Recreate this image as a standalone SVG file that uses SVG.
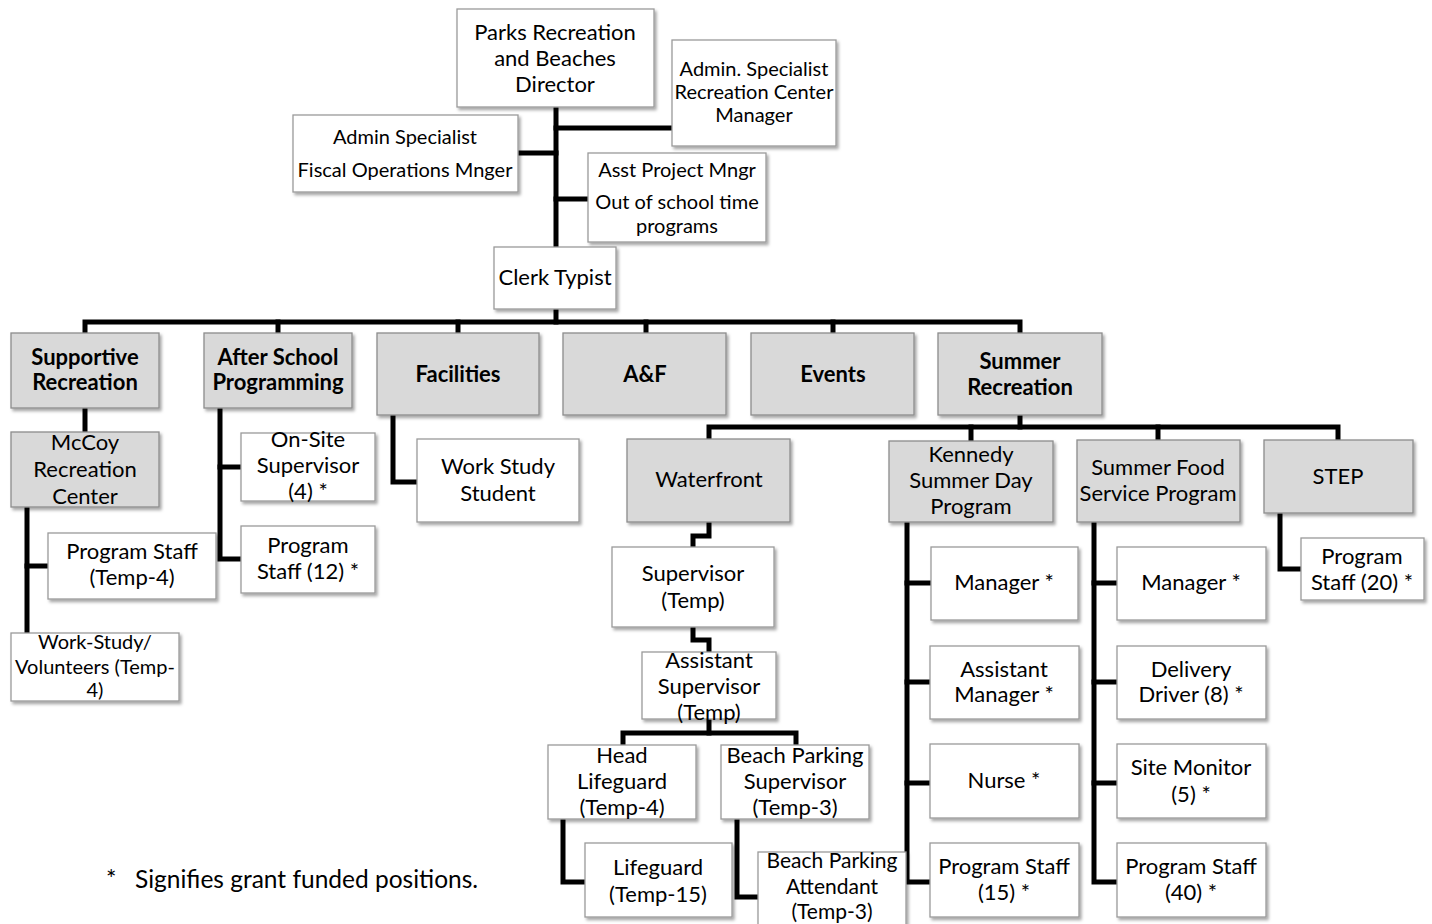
<svg xmlns="http://www.w3.org/2000/svg" width="1432" height="924" viewBox="0 0 1432 924">
  <defs>
    <filter id="shadow" x="-10%" y="-10%" width="130%" height="140%">
      <feDropShadow dx="2" dy="2.5" stdDeviation="1.5" flood-color="#000" flood-opacity="0.35"/>
    </filter>
  </defs>
  <style>
    .box { fill: #ffffff; stroke: #9a9a9a; stroke-width: 1.3; filter: url(#shadow); }
    .unit { fill: #d9d9d9; stroke: #8c8c8c; stroke-width: 1.3; filter: url(#shadow); }
    text { font-family: Lato, "Liberation Sans", Arial, sans-serif; fill: #000; text-anchor: middle; }
    .t { font-size: 22px; }
    .m { font-size: 21px; }
    .s { font-size: 20px; }
    .b { font-size: 22px; font-weight: bold; }
    .note { font-size: 24.5px; text-anchor: start; }
    .wire { fill: none; stroke: #000; stroke-width: 5; stroke-linejoin: miter; stroke-linecap: square; }
  </style>

  <rect width="1432" height="924" fill="#ffffff"/>

  <!-- connectors -->
  <g id="connectors" class="wire">
    <!-- director trunk and staff -->
    <path d="M556 107 V322"/>
    <path d="M556 128 H672"/>
    <path d="M518 153 H556"/>
    <path d="M556 199 H588"/>
    <!-- division bar -->
    <path d="M85 333 V322 H1020 V333"/>
    <path d="M278 322 V333"/>
    <path d="M458 322 V333"/>
    <path d="M646 322 V333"/>
    <path d="M833 322 V333"/>
    <!-- supportive recreation -->
    <path d="M85 408 V432"/>
    <path d="M27 507 V635"/>
    <path d="M27 566 H48"/>
    <!-- after school -->
    <path d="M220 408 V559 H241"/>
    <path d="M220 467 H241"/>
    <!-- facilities -->
    <path d="M393 415 V482 H417"/>
    <!-- summer recreation bar -->
    <path d="M1020 415 V427"/>
    <path d="M709 440 V427 H1338 V440"/>
    <path d="M971 427 V441"/>
    <path d="M1158 427 V440"/>
    <!-- waterfront chain -->
    <path d="M709 522 V536 H693 V547"/>
    <path d="M693 627 V640 H709 V652"/>
    <path d="M709 719 V733"/>
    <path d="M623 745 V733 H796 V745"/>
    <path d="M563 819 V882 H585"/>
    <path d="M737 819 V897 H758"/>
    <!-- kennedy -->
    <path d="M907 522 V882 H930"/>
    <path d="M907 583 H931"/>
    <path d="M907 682 H930"/>
    <path d="M907 783 H930"/>
    <!-- summer food -->
    <path d="M1094 522 V882 H1117"/>
    <path d="M1094 583 H1117"/>
    <path d="M1094 682 H1117"/>
    <path d="M1094 783 H1117"/>
    <!-- step -->
    <path d="M1280 513 V569 H1301"/>
  </g>

  <!-- top level -->
  <g id="director">
    <rect class="box" x="457" y="9" width="197" height="98"/>
    <text class="t" x="555" y="40">Parks Recreation</text>
    <text class="t" x="555" y="66">and Beaches</text>
    <text class="t" x="555" y="92">Director</text>
  </g>
  <g id="admin-rec-center">
    <rect class="box" x="672" y="40" width="164" height="106"/>
    <text class="s" x="754" y="76">Admin. Specialist</text>
    <text class="s" x="754" y="99">Recreation Center</text>
    <text class="s" x="754" y="122">Manager</text>
  </g>
  <g id="admin-fiscal">
    <rect class="box" x="293" y="115" width="225" height="77"/>
    <text class="s" x="405" y="144">Admin Specialist</text>
    <text class="s" x="405" y="177">Fiscal Operations Mnger</text>
  </g>
  <g id="asst-project">
    <rect class="box" x="588" y="153" width="178" height="89"/>
    <text class="s" x="677" y="177">Asst Project Mngr</text>
    <text class="s" x="677" y="209">Out of school time</text>
    <text class="s" x="677" y="233">programs</text>
  </g>
  <g id="clerk">
    <rect class="box" x="494" y="247" width="122" height="62"/>
    <text class="t" x="555" y="285">Clerk Typist</text>
  </g>

  <!-- divisions -->
  <g id="supportive">
    <rect class="unit" x="11" y="333" width="148" height="75"/>
    <text class="b" x="85" y="365">Supportive</text>
    <text class="b" x="85" y="390">Recreation</text>
  </g>
  <g id="after-school">
    <rect class="unit" x="204" y="333" width="148" height="75"/>
    <text class="b" x="278" y="365">After School</text>
    <text class="b" x="278" y="390">Programming</text>
  </g>
  <g id="facilities">
    <rect class="unit" x="377" y="333" width="162" height="82"/>
    <text class="b" x="458" y="382">Facilities</text>
  </g>
  <g id="a-and-f">
    <rect class="unit" x="563" y="333" width="163" height="82"/>
    <text class="b" x="645" y="382">A&amp;F</text>
  </g>
  <g id="events">
    <rect class="unit" x="751" y="333" width="163" height="82"/>
    <text class="b" x="833" y="382">Events</text>
  </g>
  <g id="summer">
    <rect class="unit" x="938" y="333" width="164" height="82"/>
    <text class="b" x="1020" y="369">Summer</text>
    <text class="b" x="1020" y="395">Recreation</text>
  </g>

  <!-- supportive recreation -->
  <g id="mccoy">
    <rect class="unit" x="11" y="432" width="148" height="75"/>
    <text class="t" x="85" y="450">McCoy</text>
    <text class="t" x="85" y="477">Recreation</text>
    <text class="t" x="85" y="504">Center</text>
  </g>
  <g id="mccoy-staff">
    <rect class="box" x="48" y="533" width="168" height="66"/>
    <text class="t" x="132" y="559">Program Staff</text>
    <text class="t" x="132" y="585">(Temp-4)</text>
  </g>
  <g id="mccoy-volunteers">
    <rect class="box" x="11" y="633" width="168" height="68"/>
    <text class="s" x="95" y="649">Work-Study/</text>
    <text class="s" x="95" y="674">Volunteers (Temp-</text>
    <text class="s" x="95" y="697">4)</text>
  </g>

  <!-- after school -->
  <g id="onsite">
    <rect class="box" x="241" y="433" width="134" height="68"/>
    <text class="t" x="308" y="447">On-Site</text>
    <text class="t" x="308" y="473">Supervisor</text>
    <text class="t" x="308" y="499">(4) *</text>
  </g>
  <g id="afterschool-staff">
    <rect class="box" x="241" y="526" width="134" height="67"/>
    <text class="t" x="308" y="553">Program</text>
    <text class="t" x="308" y="579">Staff (12) *</text>
  </g>

  <!-- facilities -->
  <g id="work-study">
    <rect class="box" x="417" y="439" width="162" height="83"/>
    <text class="t" x="498" y="474">Work Study</text>
    <text class="t" x="498" y="501">Student</text>
  </g>

  <!-- waterfront -->
  <g id="waterfront">
    <rect class="unit" x="627" y="439" width="163" height="83"/>
    <text class="t" x="709" y="487">Waterfront</text>
  </g>
  <g id="wf-supervisor">
    <rect class="box" x="612" y="547" width="162" height="80"/>
    <text class="t" x="693" y="581">Supervisor</text>
    <text class="t" x="693" y="608">(Temp)</text>
  </g>
  <g id="wf-assistant">
    <rect class="box" x="642" y="652" width="134" height="67"/>
    <text class="t" x="709" y="668">Assistant</text>
    <text class="t" x="709" y="694">Supervisor</text>
    <text class="t" x="709" y="720">(Temp)</text>
  </g>
  <g id="head-lifeguard">
    <rect class="box" x="548" y="745" width="148" height="74"/>
    <text class="t" x="622" y="763">Head</text>
    <text class="t" x="622" y="789">Lifeguard</text>
    <text class="t" x="622" y="815">(Temp-4)</text>
  </g>
  <g id="parking-supervisor">
    <rect class="box" x="721" y="745" width="148" height="74"/>
    <text class="t" x="795" y="763">Beach Parking</text>
    <text class="t" x="795" y="789">Supervisor</text>
    <text class="t" x="795" y="815">(Temp-3)</text>
  </g>
  <g id="lifeguard">
    <rect class="box" x="585" y="843" width="147" height="74"/>
    <text class="t" x="658" y="875">Lifeguard</text>
    <text class="t" x="658" y="902">(Temp-15)</text>
  </g>
  <g id="parking-attendant">
    <rect class="box" x="758" y="852" width="148" height="80"/>
    <text class="m" x="832" y="868">Beach Parking</text>
    <text class="m" x="832" y="894">Attendant</text>
    <text class="m" x="832" y="919">(Temp-3)</text>
  </g>

  <!-- kennedy summer day program -->
  <g id="kennedy">
    <rect class="unit" x="889" y="441" width="164" height="81"/>
    <text class="t" x="971" y="462">Kennedy</text>
    <text class="t" x="971" y="488">Summer Day</text>
    <text class="t" x="971" y="514">Program</text>
  </g>
  <g id="k-manager">
    <rect class="box" x="931" y="547" width="147" height="73"/>
    <text class="t" x="1004" y="590">Manager *</text>
  </g>
  <g id="k-asst-manager">
    <rect class="box" x="930" y="646" width="149" height="73"/>
    <text class="t" x="1004" y="677">Assistant</text>
    <text class="t" x="1004" y="702">Manager *</text>
  </g>
  <g id="k-nurse">
    <rect class="box" x="930" y="744" width="149" height="74"/>
    <text class="t" x="1004" y="788">Nurse *</text>
  </g>
  <g id="k-staff">
    <rect class="box" x="930" y="843" width="149" height="74"/>
    <text class="t" x="1004" y="874">Program Staff</text>
    <text class="t" x="1004" y="900">(15) *</text>
  </g>

  <!-- summer food service program -->
  <g id="food">
    <rect class="unit" x="1077" y="440" width="163" height="82"/>
    <text class="t" x="1158" y="475">Summer Food</text>
    <text class="t" x="1158" y="501">Service Program</text>
  </g>
  <g id="f-manager">
    <rect class="box" x="1117" y="547" width="149" height="73"/>
    <text class="t" x="1191" y="590">Manager *</text>
  </g>
  <g id="f-driver">
    <rect class="box" x="1117" y="646" width="149" height="73"/>
    <text class="t" x="1191" y="677">Delivery</text>
    <text class="t" x="1191" y="702">Driver (8) *</text>
  </g>
  <g id="f-monitor">
    <rect class="box" x="1117" y="744" width="149" height="74"/>
    <text class="t" x="1191" y="775">Site Monitor</text>
    <text class="t" x="1191" y="802">(5) *</text>
  </g>
  <g id="f-staff">
    <rect class="box" x="1117" y="843" width="149" height="74"/>
    <text class="t" x="1191" y="874">Program Staff</text>
    <text class="t" x="1191" y="900">(40) *</text>
  </g>

  <!-- step -->
  <g id="step">
    <rect class="unit" x="1264" y="440" width="149" height="73"/>
    <text class="t" x="1338" y="484">STEP</text>
  </g>
  <g id="step-staff">
    <rect class="box" x="1301" y="538" width="123" height="62"/>
    <text class="t" x="1362" y="564">Program</text>
    <text class="t" x="1362" y="590">Staff (20) *</text>
  </g>

  <!-- footnote -->
  <g id="footnote">
    <text class="note" x="106" y="888">*</text>
    <text class="note" x="135" y="888">Signifies grant funded positions.</text>
  </g>
</svg>
